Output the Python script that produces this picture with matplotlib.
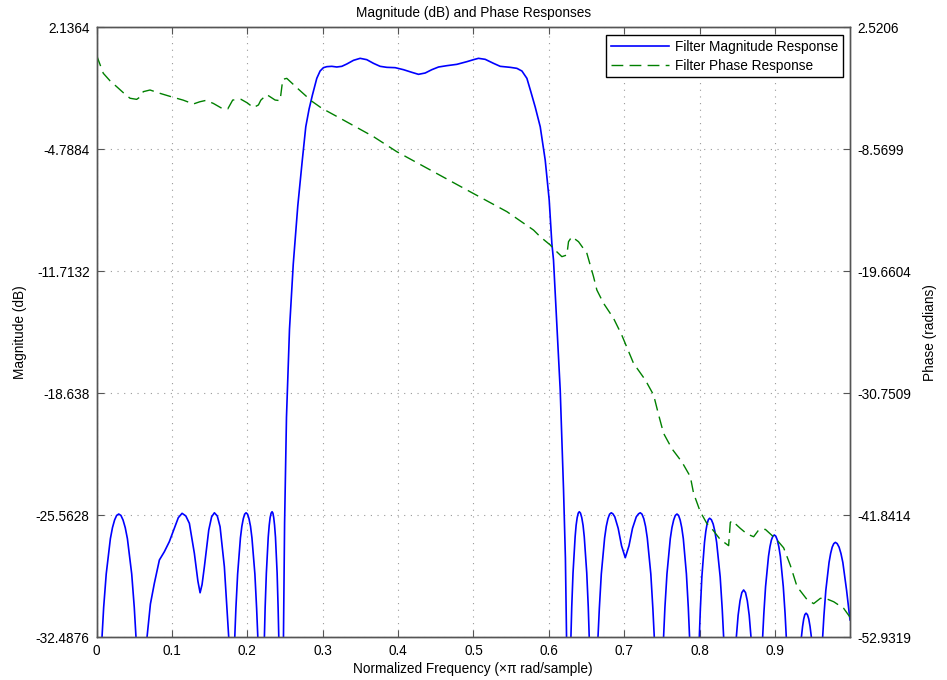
import matplotlib
matplotlib.use("Agg")
import matplotlib.pyplot as plt

plt.rcParams['font.family'] = ['Liberation Sans', 'DejaVu Sans']

# ---- data ----
freq_mag = [0.0,
            0.0073, 0.0095, 0.0129, 0.0184, 0.0212, 0.024, 0.0267, 0.0295, 0.0324, 0.0352, 0.0381, 0.041,
            0.0467, 0.0501, 0.0524,
            0.059,
            0.067, 0.0715, 0.0767, 0.0834, 0.090, 0.0966, 0.1033, 0.1085, 0.1135, 0.1185, 0.1232, 0.1298,
            0.1345, 0.1374, 0.1400, 0.1431, 0.1489, 0.1527, 0.1564, 0.1602, 0.1639, 0.1696, 0.1754,
            0.179,
            0.1834, 0.1849, 0.1872, 0.1909, 0.1928, 0.1947, 0.1965, 0.1984, 0.2004, 0.2023, 0.2043, 0.2062,
            0.2101, 0.2124, 0.214,
            0.218,
            0.2227, 0.2237, 0.2253, 0.2278, 0.2291, 0.2303, 0.2316, 0.2329, 0.234, 0.2351, 0.2362, 0.2374,
            0.2396, 0.2409, 0.2418,
            0.2455,
            0.248, 0.2495, 0.252, 0.256, 0.261, 0.267, 0.273, 0.2776, 0.2820, 0.2864, 0.2922, 0.2966,
            0.3010, 0.3055, 0.3121, 0.3187, 0.3254, 0.3320, 0.3409, 0.3497, 0.3585, 0.3674, 0.3762,
            0.3851, 0.3962, 0.4072, 0.4183, 0.4271, 0.4360, 0.4448, 0.4537, 0.4647, 0.4780, 0.4913,
            0.5001, 0.5067, 0.5156, 0.5266, 0.5355, 0.5488, 0.5576, 0.5643, 0.5709, 0.5760, 0.5820,
            0.5886, 0.5952, 0.6005, 0.604, 0.6062, 0.6151, 0.6195, 0.622, 0.6235,
            0.626,
            0.6293, 0.6304, 0.6321, 0.6349, 0.6362, 0.6376, 0.639, 0.6404, 0.642, 0.6437, 0.6454, 0.647,
            0.6503, 0.6523, 0.6536,
            0.659,
            0.6652, 0.667, 0.6696, 0.674, 0.6762, 0.6784, 0.6806, 0.6828, 0.6850, 0.6875, 0.692, 0.6965,
            0.7014, 0.7063, 0.711, 0.716, 0.7190, 0.7213, 0.7236, 0.726, 0.7283, 0.7306, 0.7353, 0.738,
            0.7399,
            0.746,
            0.7522, 0.754, 0.7567, 0.7611, 0.7633, 0.7656, 0.7678, 0.770, 0.7721, 0.7742, 0.7763, 0.7784,
            0.7825, 0.785, 0.7867,
            0.793,
            0.7996, 0.801, 0.803, 0.8065, 0.8082, 0.8099, 0.8116, 0.8133, 0.8156, 0.818, 0.8203, 0.8226,
            0.8273, 0.830, 0.8319,
            0.840,
            0.8487, 0.8497, 0.8511, 0.8536, 0.8560, 0.8584, 0.8609, 0.8633, 0.8658, 0.8672, 0.8682,
            0.876,
            0.8836, 0.8852, 0.8875, 0.8914, 0.8933, 0.8952, 0.8972, 0.8991, 0.9011, 0.9031, 0.9051, 0.9071,
            0.911, 0.9134, 0.915,
            0.925,
            0.935, 0.9366, 0.9381, 0.9396, 0.9412, 0.943, 0.9448, 0.9465, 0.9483,
            0.956,
            0.9632, 0.9649, 0.9674, 0.9717, 0.9738, 0.9759, 0.978, 0.9801, 0.9825, 0.985, 0.9875, 0.990,
            0.995, 0.9995]

mag_db = [-42.0,
          -32.49, -30.79, -28.89, -26.89, -26.26, -25.83, -25.57, -25.49, -25.57, -25.83, -26.26, -26.89,
          -28.89, -30.79, -32.49,
          -50.0,
          -32.49, -30.6, -29.43, -28.1, -27.63, -27.06, -26.30, -25.7, -25.45, -25.6, -26.02, -27.72,
          -29.3, -29.96, -29.5, -28.48, -26.40, -25.65, -25.42, -25.6, -26.21, -28.48, -32.49,
          -48.0,
          -32.49, -30.85, -28.9, -26.85, -26.19, -25.76, -25.50, -25.42, -25.50, -25.76, -26.19, -26.85,
          -28.9, -30.85, -32.49,
          -48.0,
          -32.49, -30.8, -28.85, -26.8, -26.13, -25.7, -25.44, -25.36, -25.44, -25.7, -26.13, -26.8,
          -28.85, -30.8, -32.49,
          -55.0,
          -32.49, -26.0, -20.0, -15.0, -11.3, -8.0, -5.4, -3.51, -2.5, -1.71, -0.76, -0.344,
          -0.155, -0.098, -0.079, -0.117, -0.079, 0.053, 0.262, 0.375, 0.299, 0.091, -0.079,
          -0.136, -0.155, -0.269, -0.420, -0.533, -0.458, -0.269, -0.117, -0.042, 0.034, 0.186,
          0.299, 0.375, 0.318, 0.091, -0.079, -0.136, -0.193, -0.344, -0.76, -1.5, -2.4,
          -3.51, -5.40, -7.67, -10.12, -11.07, -18.45, -24.1, -28.0, -32.49,
          -55.0,
          -32.49, -30.76, -28.83, -26.78, -26.13, -25.70, -25.44, -25.36, -25.44, -25.70, -26.13, -26.78,
          -28.83, -30.76, -32.49,
          -50.0,
          -32.49, -30.85, -28.9, -26.85, -26.19, -25.76, -25.50, -25.42, -25.48, -25.65, -26.3, -27.3,
          -27.97, -27.3, -26.3, -25.65, -25.48, -25.42, -25.50, -25.76, -26.19, -26.85, -28.9, -30.85,
          -32.49,
          -50.0,
          -32.49, -30.79, -28.89, -26.89, -26.26, -25.83, -25.57, -25.49, -25.57, -25.83, -26.26, -26.89,
          -28.89, -30.79, -32.49,
          -50.0,
          -32.49, -30.88, -29.06, -27.10, -26.48, -26.06, -25.81, -25.73, -25.81, -26.06, -26.48, -27.10,
          -29.06, -30.88, -32.49,
          -50.0,
          -32.49, -31.94, -31.24, -30.42, -29.95, -29.80, -29.95, -30.42, -31.24, -31.94, -32.49,
          -50.0,
          -32.49, -31.15, -29.61, -27.89, -27.35, -26.97, -26.75, -26.68, -26.75, -26.97, -27.35, -27.89,
          -29.61, -31.15, -32.49,
          -50.0,
          -32.49, -31.87, -31.45, -31.2, -31.12, -31.2, -31.45, -31.87, -32.49,
          -50.0,
          -32.49, -31.27, -29.83, -28.24, -27.73, -27.37, -27.17, -27.10, -27.17, -27.37, -27.73, -28.24,
          -29.83, -31.5]

freq_phase = [0.0, 0.009, 0.018, 0.0268, 0.036, 0.0445, 0.0533, 0.057, 0.0621, 0.071, 0.085, 0.102,
              0.115, 0.1285, 0.137, 0.1453, 0.155, 0.1662, 0.1741, 0.1807, 0.1918, 0.2, 0.2081,
              0.2148, 0.218, 0.2259, 0.2369, 0.2435, 0.2471, 0.2524, 0.2678, 0.2856, 0.2989,
              0.3275, 0.3674, 0.3984, 0.4957, 0.5444, 0.5797, 0.5886, 0.6019, 0.6062, 0.6173,
              0.6239, 0.6261, 0.6305, 0.6394, 0.6505, 0.6593, 0.6637, 0.6726, 0.6858, 0.6967,
              0.7124, 0.728, 0.739, 0.7456, 0.7522, 0.7634, 0.7766, 0.7877, 0.792, 0.8009, 0.8098,
              0.8142, 0.8275, 0.8385, 0.8407, 0.843, 0.854, 0.8629, 0.8717, 0.8783, 0.8872, 0.9027,
              0.9115, 0.9204, 0.9293, 0.9425, 0.9513, 0.9602, 0.9668, 0.9779, 0.9911, 0.9995]

phase_rad = [0.0, -1.66, -2.35, -2.88, -3.45, -3.93, -4.03, -3.85, -3.33, -3.18, -3.5, -3.85,
             -4.1, -4.45, -4.25, -4.12, -4.4, -4.84, -4.9, -4.09, -4.03, -4.35, -4.78,
             -4.54, -4.1, -3.6, -4.09, -4.15, -2.21, -2.12, -3.1, -4.2, -4.84,
             -5.91, -7.42, -8.79, -12.43, -14.24, -15.91, -16.52, -17.27, -17.6, -18.33,
             -18.18, -16.97, -16.52, -16.97, -18.03, -20.15, -21.36, -22.57, -23.93, -25.45,
             -28.03, -29.54, -30.91, -32.7, -34.39, -35.8, -37.0, -38.33, -39.84, -41.52, -42.6,
             -42.88, -44.05, -44.6, -42.5, -42.33, -43.03, -43.54, -43.79, -43.18, -43.12, -44.09,
             -44.8, -46.4, -48.33, -49.5, -49.87, -49.39, -49.39, -49.7, -50.3, -51.1]

x_ticks = [0, 0.1, 0.2, 0.3, 0.4, 0.5, 0.6, 0.7, 0.8, 0.9]
x_tick_labels = ['0', '0.1', '0.2', '0.3', '0.4', '0.5', '0.6', '0.7', '0.8', '0.9']
mag_ticks = [-32.4876, -25.5628, -18.638, -11.7132, -4.7884, 2.1364]
mag_tick_labels = ['-32.4876', '-25.5628', '-18.638', '-11.7132', '-4.7884', '2.1364']
phase_ticks = [-52.9319, -41.8414, -30.7509, -19.6604, -8.5699, 2.5206]
phase_tick_labels = ['-52.9319', '-41.8414', '-30.7509', '-19.6604', '-8.5699', '2.5206']

# ---- plot ----
fs = 9.8
axcol = '#555555'
fig = plt.figure(figsize=(9.47, 6.8), dpi=100)
ax = fig.add_axes([96.5 / 947, (680 - 637.3) / 680, (850 - 96.5) / 947, 610 / 680])
ax2 = ax.twinx()

l1, = ax.plot(freq_mag, mag_db, color='#0000ff', lw=1.2, label='Filter Magnitude Response')
l2, = ax2.plot(freq_phase, phase_rad, color='#008000', lw=1.0, ls=(0, (8.5, 4.5)),
               label='Filter Phase Response')

ax.set_xlim(0, 0.9995)
ax.set_ylim(mag_ticks[0], mag_ticks[-1])
ax2.set_ylim(phase_ticks[0], phase_ticks[-1])

ax.set_xticks(x_ticks)
ax.set_xticklabels(x_tick_labels, fontsize=fs)
ax.set_yticks(mag_ticks)
ax.set_yticklabels(mag_tick_labels, fontsize=fs)
ax2.set_yticks(phase_ticks)
ax2.set_yticklabels(phase_tick_labels, fontsize=fs)

ax.grid(True, color='#999999', linestyle=(0, (1, 5)), linewidth=0.8)
ax.tick_params(axis='both', direction='in', length=5, color=axcol, top=True, pad=5)
ax2.tick_params(axis='y', direction='in', length=5, color=axcol, pad=5)
for a in (ax, ax2):
    for s in a.spines.values():
        s.set_color(axcol)
        s.set_linewidth(1.0)

ax.set_xlabel('Normalized Frequency (\u00d7\u03c0 rad/sample)', fontsize=fs, labelpad=3)
ax.set_ylabel('Magnitude (dB)', fontsize=fs, labelpad=6.5)
ax2.set_ylabel('Phase (radians)', fontsize=fs, labelpad=9)
ax.set_title('Magnitude (dB) and Phase Responses', fontsize=fs, pad=7.5)

leg = ax2.legend([l1, l2], ['Filter Magnitude Response', 'Filter Phase Response'],
                 loc='upper right', bbox_to_anchor=(0.9907, 0.9874), fontsize=fs,
                 frameon=True, fancybox=False, edgecolor='black', framealpha=1,
                 borderpad=0.35, labelspacing=0.35, handlelength=4.3, handletextpad=0.42,
                 borderaxespad=0)
leg.get_frame().set_linewidth(1.0)

fig.savefig('out.png', dpi=100)
